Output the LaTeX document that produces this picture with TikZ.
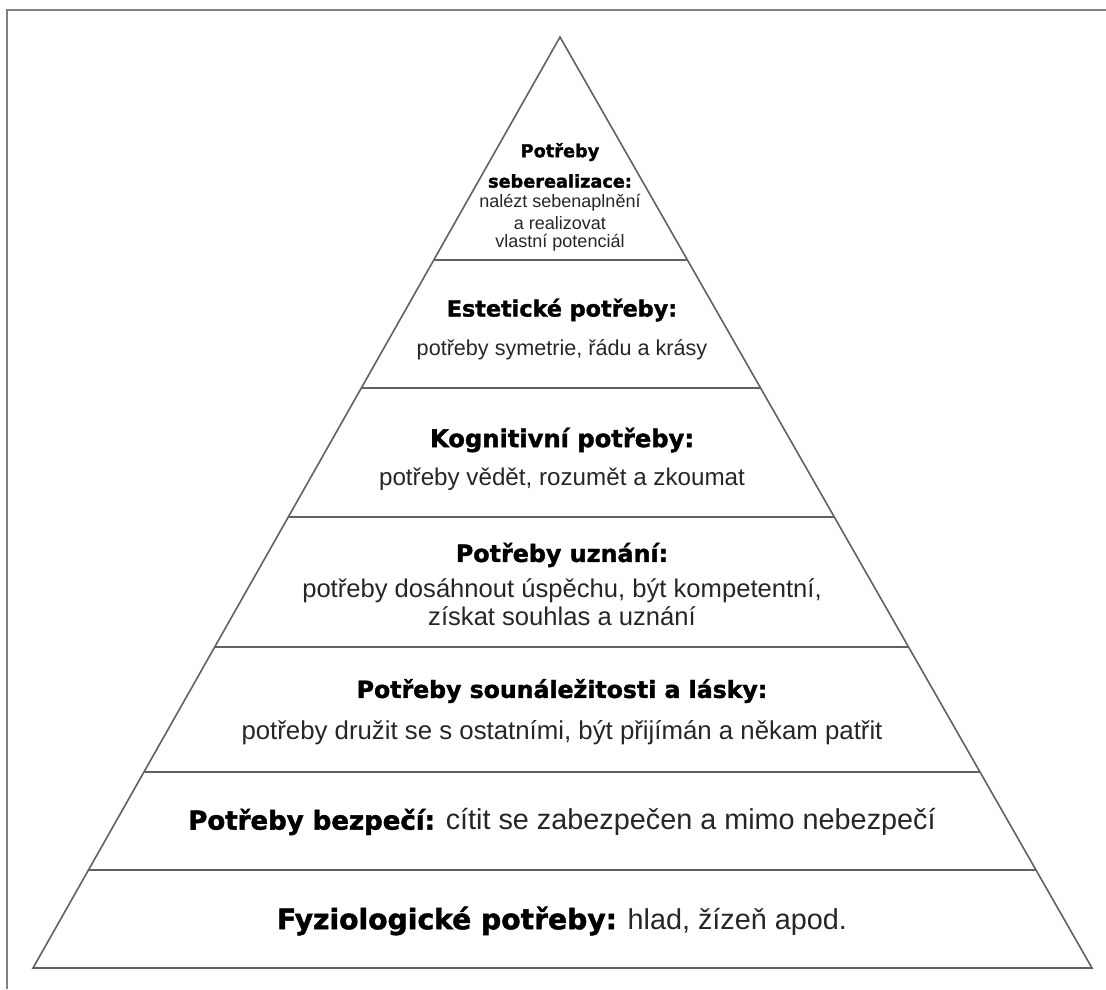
\documentclass[tikz,border=0pt]{standalone}
\usepackage{fontspec}
\setmainfont{Liberation Sans}
\newfontfamily\hfont{DejaVu Sans}[BoldFeatures={FakeBold=1.6}]
\usetikzlibrary{calc}
\begin{document}
\begin{tikzpicture}[x=1pt,y=-1pt,
  edge/.style={draw=black!62, line width=1.6pt, line join=miter},
  frame/.style={draw=black!50, line width=2pt},
  head/.style={inner sep=0pt, text=black},
  body/.style={inner sep=0pt, text=black!85},
]
\useasboundingbox (0,0) rectangle (1106,989);
\draw[frame] (7,989) -- (7,10) -- (1106,10);
% pyramid
\coordinate (A) at (560,37);
\coordinate (BL) at (33,968);
\coordinate (BR) at (1092,968);
\draw[edge] (A) -- (BL) -- (BR) -- cycle;
\foreach \t/\n in {0.2395/1,0.3770/2,0.5156/3,0.6552/4,0.7895/5,0.8947/6}{
  \coordinate (L\n) at ($(A)!\t!(BL)$);
  \coordinate (R\n) at ($(A)!\t!(BR)$);
  \draw[edge] (L\n) -- (R\n);
}
% level 7: self-actualisation
\node[head, font={\hfont\bfseries\fontsize{17.7}{19}\selectfont}] (t1) at (560,152) {Potřeby};
\node[head, font={\hfont\bfseries\fontsize{17.7}{19}\selectfont}] (t2) at (560,181) {seberealizace:};
\node[body, font={\fontsize{18}{19}\selectfont}] (t3) at (560,203) {nalézt sebenaplnění};
\node[body, font={\fontsize{18}{19}\selectfont}] (t4) at (560,223) {a realizovat};
\node[body, font={\fontsize{18}{19}\selectfont}] (t5) at (560,243) {vlastní potenciál};
% level 6: aesthetic
\node[head, font={\hfont\bfseries\fontsize{22.3}{24}\selectfont}] (e1) at (562,310) {Estetické potřeby:};
\node[body, font={\fontsize{21.6}{23}\selectfont}] (e2) at (562,350) {potřeby symetrie, řádu a krásy};
% level 5: cognitive
\node[head, font={\hfont\bfseries\fontsize{24.2}{26}\selectfont}] (k1) at (562,440) {Kognitivní potřeby:};
\node[body, font={\fontsize{24.2}{26}\selectfont}] (k2) at (562,479) {potřeby vědět, rozumět a zkoumat};
% level 4: esteem
\node[head, font={\hfont\bfseries\fontsize{23.8}{26}\selectfont}] (u1) at (562,555) {Potřeby uznání:};
\node[body, font={\fontsize{25.6}{27}\selectfont}] (u2) at (562,591) {potřeby dosáhnout úspěchu, být kompetentní,};
\node[body, font={\fontsize{25.6}{27}\selectfont}] (u3) at (562,616) {získat souhlas a uznání};
% level 3: belonging
\node[head, font={\hfont\bfseries\fontsize{23.6}{26}\selectfont}] (s1) at (562,691) {Potřeby sounáležitosti a lásky:};
\node[body, font={\fontsize{25.8}{28}\selectfont}] (s2) at (562,733) {potřeby družit se s ostatními, být přijímán a někam patřit};
% level 2: safety
\node[body, font={\fontsize{28.8}{30}\selectfont}] (b1) at (562,822) {{\hfont\bfseries\color{black}\fontsize{26}{28}\selectfont Potřeby bezpečí:} cítit se zabezpečen a mimo nebezpečí};
% level 1: physiological
\node[body, font={\fontsize{28.8}{30}\selectfont}] (f1) at (562,921) {{\hfont\bfseries\color{black}\fontsize{28.2}{30}\selectfont Fyziologické potřeby:} hlad, žízeň apod.};
\end{tikzpicture}
\end{document}
